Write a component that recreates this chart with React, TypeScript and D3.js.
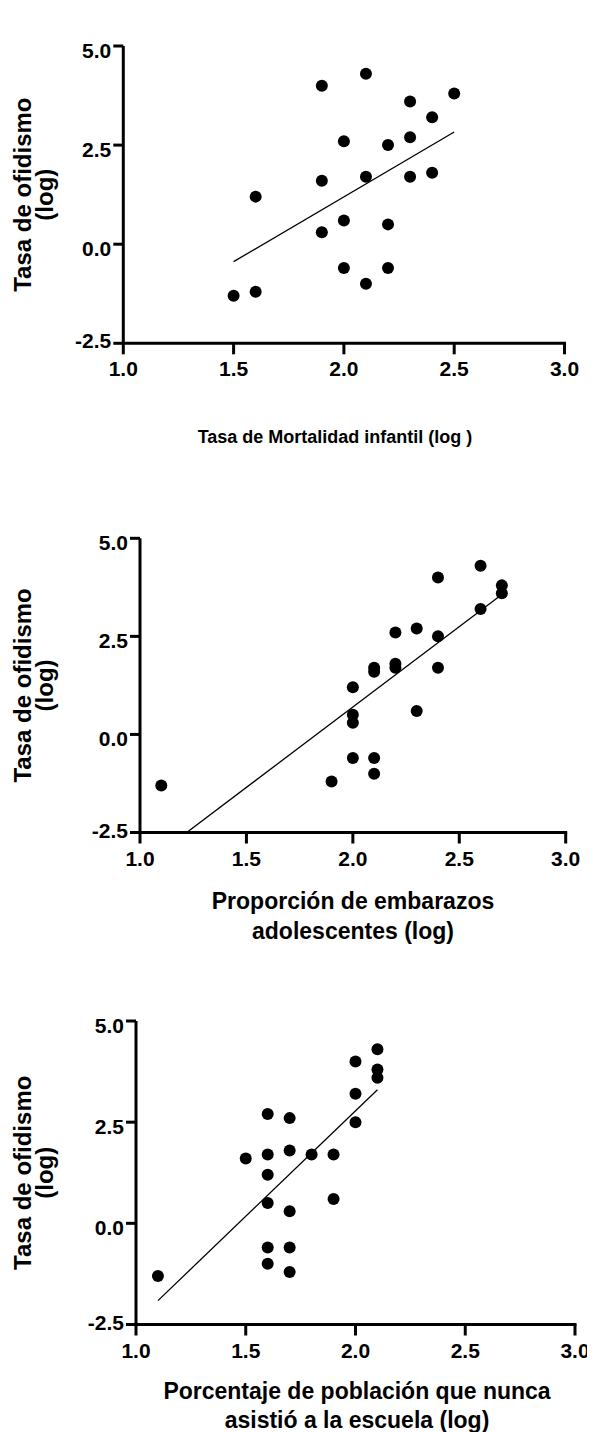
import React from "react";
import * as d3 from "d3";

// ---- data ----
const xTicks = [1.0, 1.5, 2.0, 2.5, 3.0];
const yTicks = [-2.5, 0.0, 2.5, 5.0];
const yTitleLines = ["Tasa de ofidismo", "(log)"];

const mortalidadX = [1.5, 1.6, 1.6, 1.9, 1.9, 1.9, 2.0, 2.0, 2.0, 2.1, 2.1, 2.1, 2.2, 2.2, 2.2, 2.3, 2.3, 2.3, 2.4, 2.4, 2.5];
const mortalidadY = [-1.3, -1.2, 1.2, 4.0, 1.6, 0.3, 2.6, 0.6, -0.6, 4.3, 1.7, -1.0, 2.5, 0.5, -0.6, 3.6, 2.7, 1.7, 3.2, 1.8, 3.8];
const fitMortalidadX = [1.5, 2.5];
const fitMortalidadY = [-0.44, 2.83];
const mortalidadTitle = ["Tasa de Mortalidad infantil (log )"];

const embarazosX = [1.1, 1.9, 2.0, 2.0, 2.0, 2.0, 2.1, 2.1, 2.1, 2.1, 2.2, 2.2, 2.2, 2.3, 2.3, 2.4, 2.4, 2.4, 2.6, 2.6, 2.7, 2.7];
const embarazosY = [-1.3, -1.2, 1.2, 0.5, 0.3, -0.6, 1.7, 1.6, -0.6, -1.0, 2.6, 1.8, 1.7, 2.7, 0.6, 4.0, 2.5, 1.7, 4.3, 3.2, 3.8, 3.6];
const fitEmbarazosX = [1.1, 2.7];
const fitEmbarazosY = [-2.99, 3.57];
const embarazosTitle = ["Proporción de embarazos", "adolescentes (log)"];

const escuelaX = [1.1, 1.5, 1.6, 1.6, 1.6, 1.6, 1.6, 1.6, 1.7, 1.7, 1.7, 1.7, 1.7, 1.8, 1.9, 1.9, 2.0, 2.0, 2.0, 2.1, 2.1, 2.1];
const escuelaY = [-1.3, 1.6, 2.7, 1.7, 1.2, 0.5, -0.6, -1.0, 2.6, 1.8, 0.3, -0.6, -1.2, 1.7, 1.7, 0.6, 4.0, 3.2, 2.5, 4.3, 3.8, 3.6];
const fitEscuelaX = [1.1, 2.1];
const fitEscuelaY = [-1.91, 3.3];
const escuelaTitle = ["Porcentaje de población que nunca", "asistió a la escuela (log)"];

const FONT = "'Liberation Sans', Arial, Helvetica, sans-serif";

type PanelProps = {
  id: string;
  xs: number[];
  ys: number[];
  fx: number[];
  fy: number[];
  title: string[];
  left: number;
  right: number;
  top: number;
  bottom: number;
  titleX: number;
  titleY: number;
  titleSize: number;
  titleGap: number;
};

function Panel(p: PanelProps) {
  const x = d3.scaleLinear().domain([1, 3]).range([p.left, p.right]);
  const y = d3.scaleLinear().domain([-2.5, 5]).range([p.bottom, p.top]);
  const line = d3
    .line<number>()
    .x((_, i) => x(p.fx[i]))
    .y((v) => y(v));
  const pts = p.xs.map((v, i) => [v, p.ys[i]] as [number, number]);
  const midY = (p.top + p.bottom) / 2;
  return (
    <g>
      <defs>
        <clipPath id={`clip-${p.id}`}>
          <rect x={p.left} y={p.top} width={p.right - p.left} height={p.bottom - p.top} />
        </clipPath>
      </defs>
      {/* y axis */}
      <line x1={p.left} x2={p.left} y1={y(5)} y2={y(-2.5) + 1.5} stroke="#000" strokeWidth={3} />
      {yTicks.map((t) => (
        <g key={t}>
          <line x1={p.left - 10} x2={p.left} y1={y(t)} y2={y(t)} stroke="#000" strokeWidth={3} />
          <text
            x={p.left - 12}
            y={y(t) + (t === -2.5 ? 5 : 12)}
            textAnchor="end"
            fontFamily={FONT}
            fontWeight="bold"
            fontSize={21}
          >
            {t.toFixed(1)}
          </text>
        </g>
      ))}
      {/* x axis */}
      <line x1={p.left - 1.5} x2={x(3) + 1.5} y1={p.bottom} y2={p.bottom} stroke="#000" strokeWidth={3} />
      {xTicks.map((t) => (
        <g key={t}>
          <line x1={x(t)} x2={x(t)} y1={p.bottom} y2={p.bottom + 11} stroke="#000" strokeWidth={3} />
          <text
            x={x(t)}
            y={p.bottom + 33}
            textAnchor="middle"
            fontFamily={FONT}
            fontWeight="bold"
            fontSize={21}
          >
            {t.toFixed(1)}
          </text>
        </g>
      ))}
      {/* y title */}
      <g transform={`translate(0,${midY}) rotate(-90)`}>
        {yTitleLines.map((s, i) => (
          <text
            key={s}
            x={0}
            y={31 + i * 22}
            textAnchor="middle"
            fontFamily={FONT}
            fontWeight="bold"
            fontSize={24}
          >
            {s}
          </text>
        ))}
      </g>
      {/* x title */}
      {p.title.map((s, i) => (
        <text
          key={s}
          x={p.titleX}
          y={p.titleY + i * p.titleGap}
          textAnchor="middle"
          fontFamily={FONT}
          fontWeight="bold"
          fontSize={p.titleSize}
        >
          {s}
        </text>
      ))}
      {/* regression line */}
      <path d={line(p.fy) || ""} fill="none" stroke="#000" strokeWidth={1.3} clipPath={`url(#clip-${p.id})`} />
      {/* points */}
      {pts.map(([a, b], i) => (
        <circle key={i} cx={x(a)} cy={y(b)} r={6} fill="#000" />
      ))}
    </g>
  );
}

export default function App() {
  return (
    <svg
      width={601}
      height={1432}
      style={{ position: "absolute", left: 0, top: 0, background: "#fff" }}
    >
      <defs>
        <clipPath id="pageclip">
          <rect x={0} y={0} width={587} height={1432} />
        </clipPath>
      </defs>
      <rect x={0} y={0} width={601} height={1432} fill="#fff" />
      <g clipPath="url(#pageclip)">
        <Panel
          id="p1"
          xs={mortalidadX}
          ys={mortalidadY}
          fx={fitMortalidadX}
          fy={fitMortalidadY}
          title={mortalidadTitle}
          left={123.3}
          right={564.5}
          top={46}
          bottom={343.3}
          titleX={335}
          titleY={443}
          titleSize={18}
          titleGap={0}
        />
        <Panel
          id="p2"
          xs={embarazosX}
          ys={embarazosY}
          fx={fitEmbarazosX}
          fy={fitEmbarazosY}
          title={embarazosTitle}
          left={140}
          right={565.7}
          top={538.3}
          bottom={832.5}
          titleX={353}
          titleY={909}
          titleSize={23}
          titleGap={30}
        />
        <Panel
          id="p3"
          xs={escuelaX}
          ys={escuelaY}
          fx={fitEscuelaX}
          fy={fitEscuelaY}
          title={escuelaTitle}
          left={136}
          right={575}
          top={1021}
          bottom={1324.5}
          titleX={357}
          titleY={1399}
          titleSize={23}
          titleGap={28.5}
        />
      </g>
    </svg>
  );
}
